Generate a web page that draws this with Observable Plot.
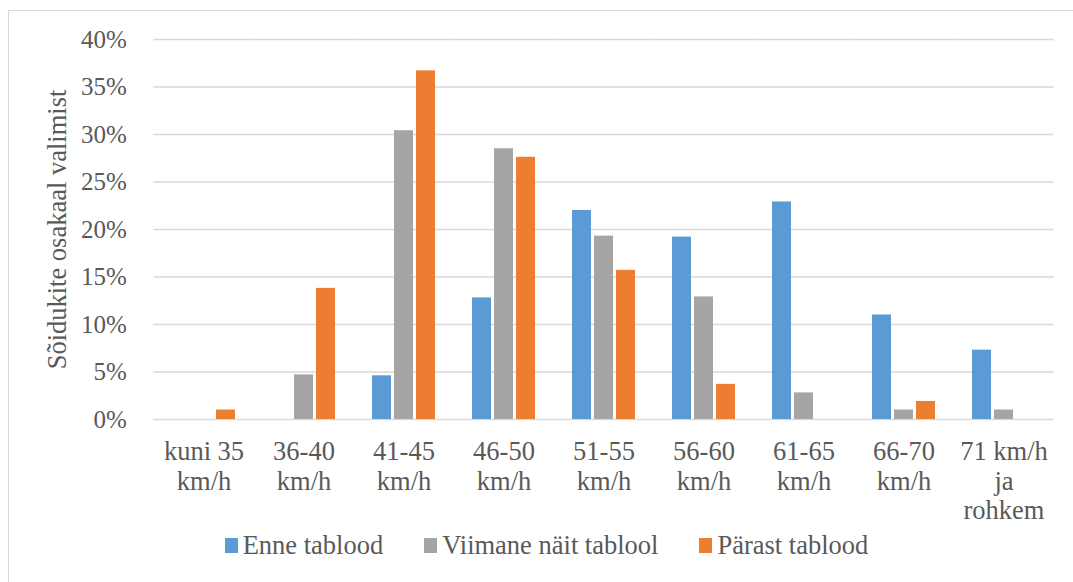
<!DOCTYPE html>
<html>
<head>
<meta charset="utf-8">
<script src="https://cdn.jsdelivr.net/npm/d3@7"></script>
<script src="https://cdn.jsdelivr.net/npm/@observablehq/plot@0.6"></script>
<style>
  html, body { margin: 0; padding: 0; background: #fff; }
  #wrap { position: relative; width: 1073px; height: 582px; overflow: hidden; font-family: "Liberation Serif", serif; color: #595959; }
  #frame { position: absolute; left: 8px; top: 10px; width: 1100px; height: 620px; border: 1px solid #d9d9d9; box-sizing: border-box; }
  #chart { position: absolute; left: 0; top: 0; }
  #legend { position: absolute; left: 0; top: 532px; width: 1073px; padding-left: 20px; box-sizing: border-box; display: flex; justify-content: center; gap: 41px; font-family: "Liberation Serif", serif; font-size: 26.5px; line-height: 1; }
  .item { display: flex; align-items: center; gap: 5px; }
  .sw { width: 13px; height: 15px; display: inline-block; }
</style>
</head>
<body>
<div id="wrap">
  <div id="frame"></div>
  <div id="chart"></div>
  <div id="legend"></div>
</div>
<script>
// Speed classes (km/h) and their axis labels
const categories = ["kuni 35", "36-40", "41-45", "46-50", "51-55", "56-60", "61-65", "66-70", "71+"];
const tickLabels = ["kuni 35\nkm/h", "36-40\nkm/h", "41-45\nkm/h", "46-50\nkm/h", "51-55\nkm/h", "56-60\nkm/h", "61-65\nkm/h", "66-70\nkm/h", "71 km/h\nja\nrohkem"];

// Series names and colours
const seriesNames = ["Enne tablood", "Viimane näit tablool", "Pärast tablood"];
const seriesColors = ["#5b9bd5", "#a5a5a5", "#ed7d31"];

// Share of vehicles (%) per speed class
const enne = [0, 0, 4.6, 12.8, 22.0, 19.2, 22.9, 11.0, 7.3];
const viimane = [0, 4.7, 30.4, 28.5, 19.3, 12.9, 2.8, 1.0, 1.0];
const parast = [1.0, 13.8, 36.7, 27.6, 15.7, 3.7, 0, 1.9, 0];

const yTicks = [0, 5, 10, 15, 20, 25, 30, 35, 40];

const seriesValues = [enne, viimane, parast];
const rows = [];
categories.forEach((c, i) => {
  seriesNames.forEach((s, j) => {
    rows.push({cat: c, series: s, value: seriesValues[j][i]});
  });
});

const labelOf = new Map(categories.map((c, i) => [c, tickLabels[i]]));

const font = "Liberation Serif, serif";

// facet band layout: the outer padding is half the inner padding,
// so every facet owns an equal slot of the frame
const W = 1073, ML = 150, MR = 16;
const padInner = 0.37, padOuter = padInner / 2;
const step = (W - ML - MR) / categories.length;
const halfGap = step * padOuter;

const chart = Plot.plot({
  width: W,
  height: 525,
  marginLeft: ML,
  marginRight: MR,
  marginTop: 39,
  marginBottom: 106,
  style: {fontFamily: font, color: "#595959", background: "transparent"},
  fx: {domain: categories, paddingInner: padInner, paddingOuter: padOuter},
  x: {domain: seriesNames, paddingInner: 0.14, paddingOuter: 0, axis: null},
  y: {domain: [0, 40]},
  color: {domain: seriesNames, range: seriesColors},
  marks: [
    // gridlines stretched over the gaps between facets so they read as continuous
    Plot.ruleY(yTicks, {stroke: "#d9d9d9", strokeWidth: 1.4, insetLeft: -halfGap, insetRight: -halfGap}),
    // y tick labels (the axis sits on the leftmost facet, so the padding includes the outer gap)
    Plot.axisY({
      ticks: yTicks,
      tickFormat: d => d + "%",
      tickSize: 0,
      tickPadding: 27 + halfGap,
      fontSize: 25,
      fontFamily: font,
      fill: "#595959",
      label: null
    }),
    // y axis title
    Plot.axisY({
      ticks: [],
      tickSize: 0,
      fontSize: 26.5,
      fontFamily: font,
      fill: "#595959",
      label: "Sõidukite osakaal valimist",
      labelAnchor: "center",
      labelArrow: "none",
      labelOffset: 125
    }),
    Plot.axisFx({
      anchor: "bottom",
      tickFormat: d => labelOf.get(d),
      tickSize: 0,
      tickPadding: 20,
      fontSize: 26.5,
      fontFamily: font,
      fill: "#595959",
      lineHeight: 1.11,
      label: null
    }),
    Plot.barY(rows, {fx: "cat", x: "series", y: "value", fill: "series"})
  ]
});
document.getElementById("chart").appendChild(chart);

// Legend below the plot
const legend = document.getElementById("legend");
seriesNames.forEach((name, i) => {
  const item = document.createElement("div");
  item.className = "item";
  const sw = document.createElement("span");
  sw.className = "sw";
  sw.style.background = seriesColors[i];
  const txt = document.createElement("span");
  txt.textContent = name;
  item.appendChild(sw);
  item.appendChild(txt);
  legend.appendChild(item);
});
</script>
</body>
</html>
